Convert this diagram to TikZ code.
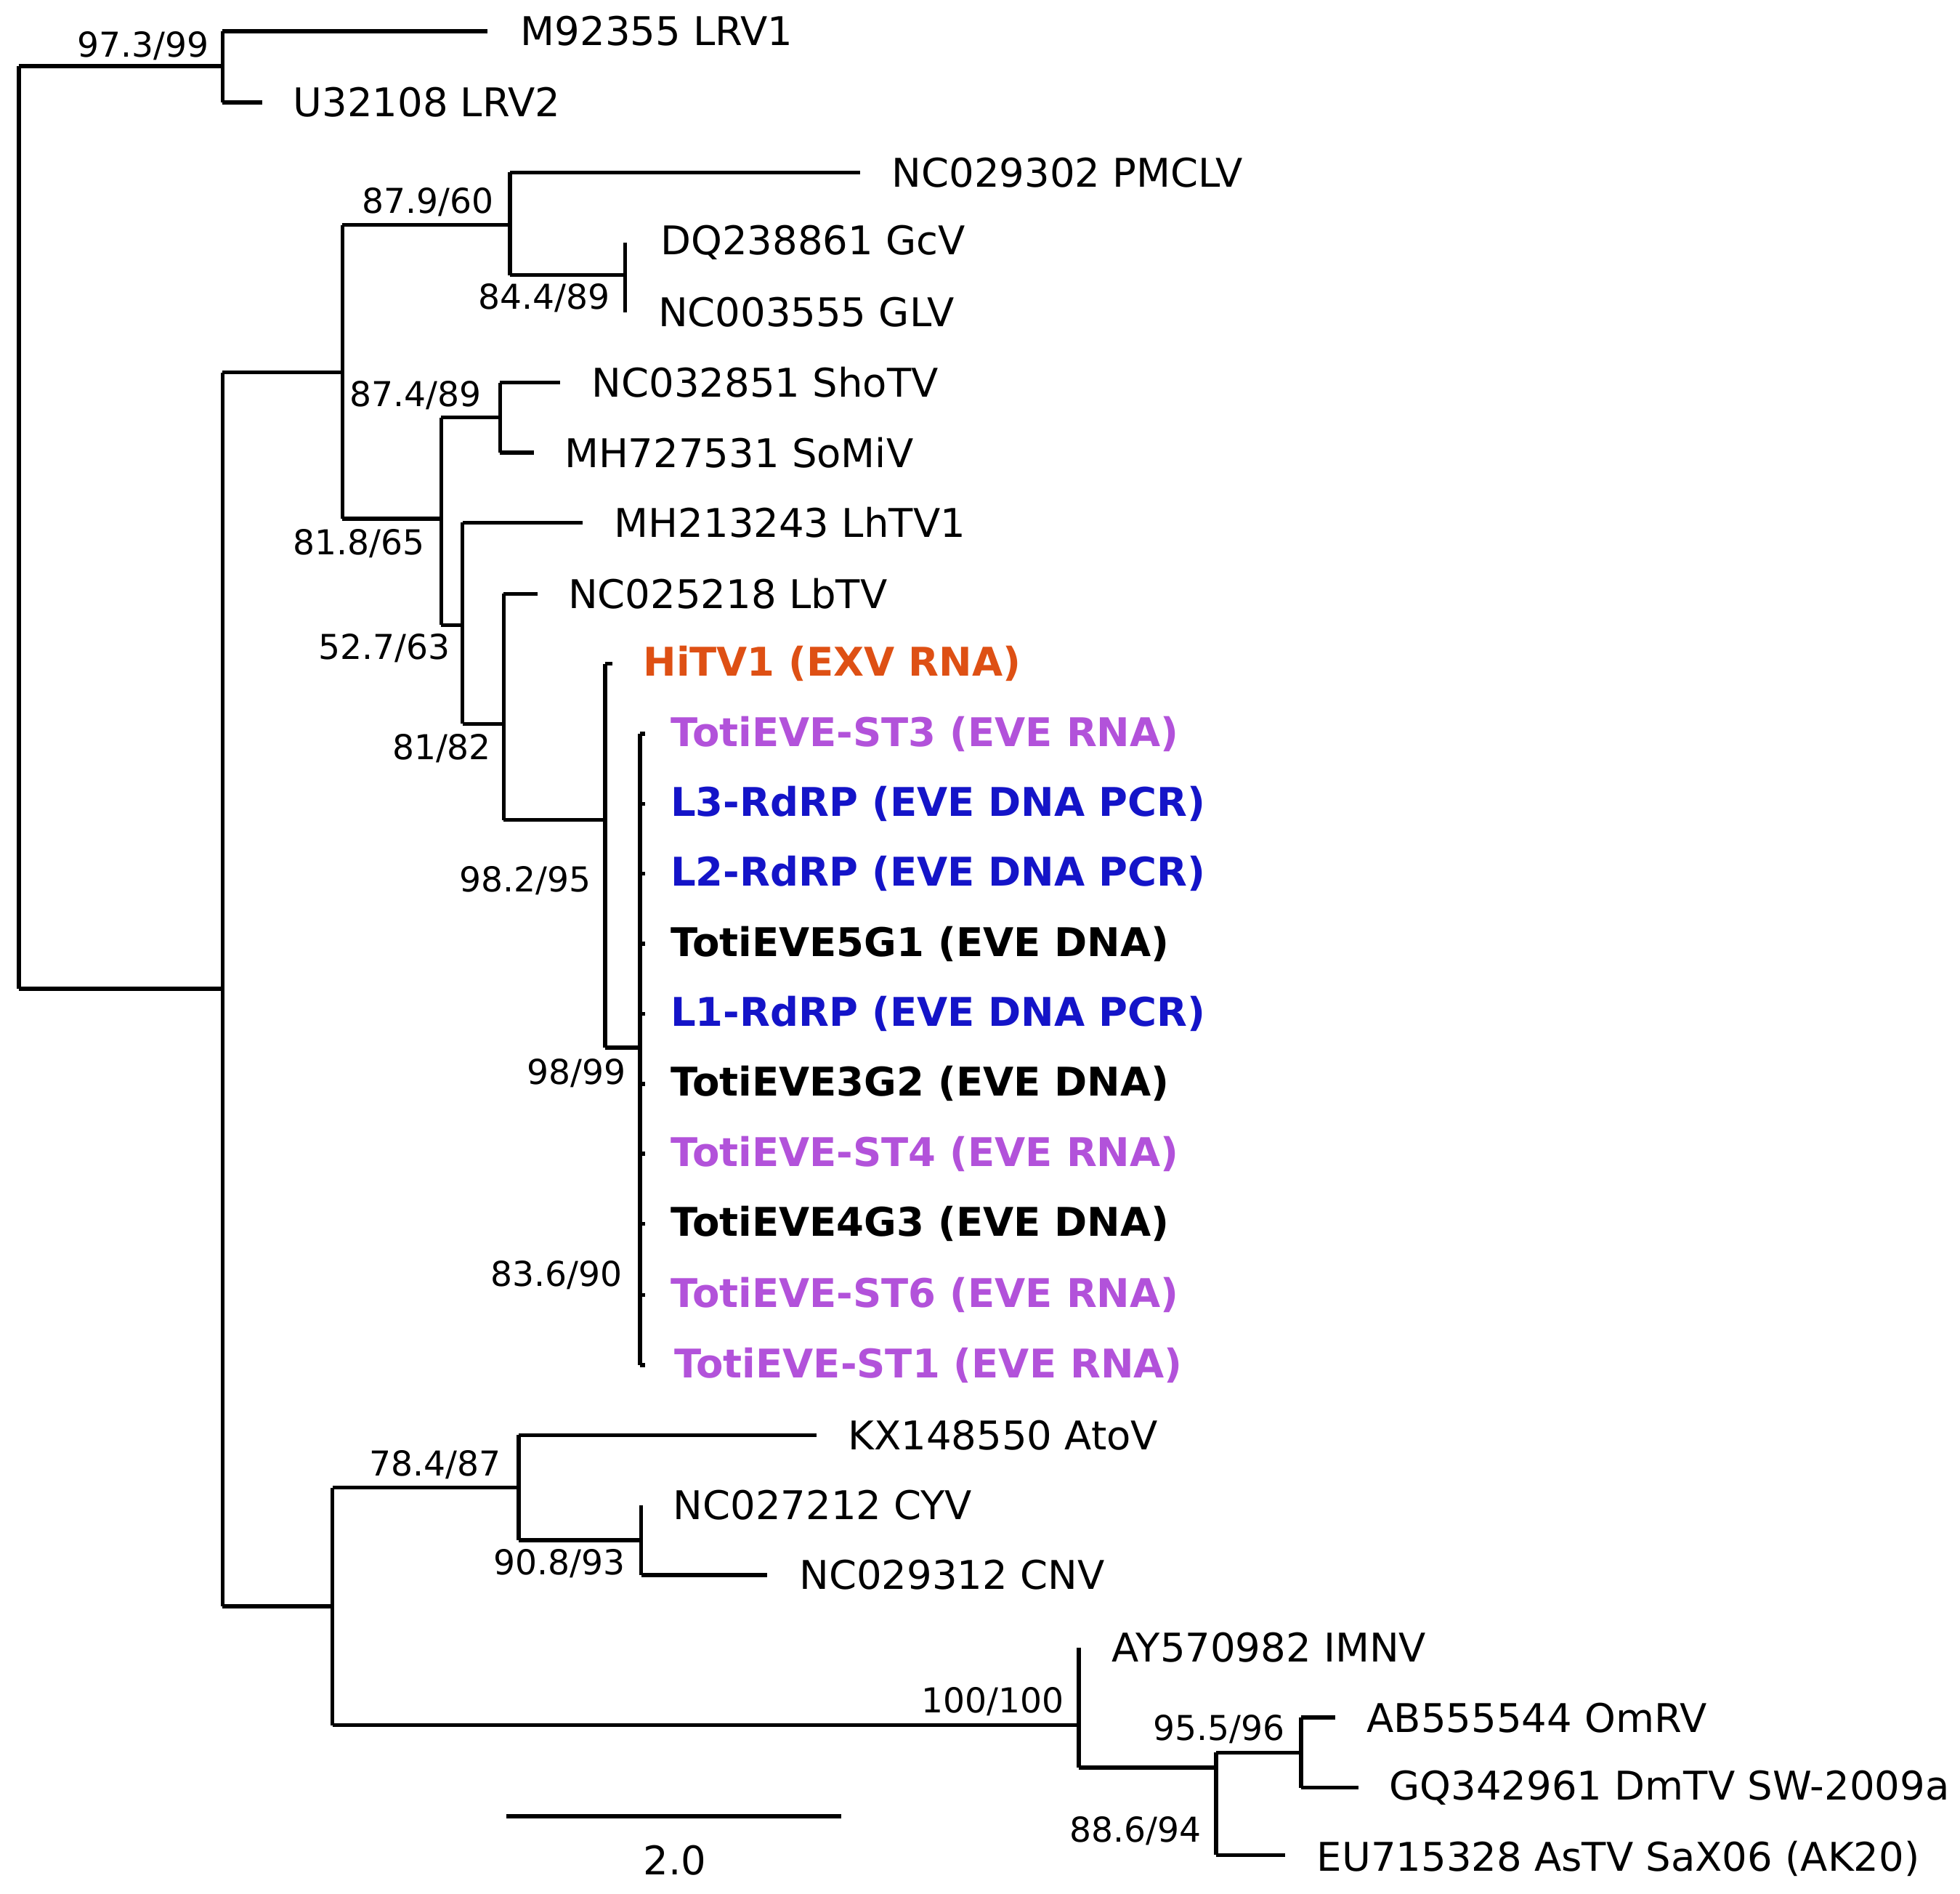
\documentclass[tikz,border=0pt]{standalone}
\usepackage{fontspec}
\setmainfont{DejaVu Sans}
\definecolor{exv}{RGB}{222,80,20}
\definecolor{everna}{RGB}{178,82,218}
\definecolor{evepcr}{RGB}{20,20,200}
\begin{document}
\begin{tikzpicture}[x=0.01cm,y=-0.01cm,line width=0.9pt,
  tip/.style={anchor=west,inner sep=0pt,font=\fontsize{9}{10}\selectfont},
  btip/.style={tip,font=\fontsize{9}{10}\selectfont\bfseries},
  bs/.style={inner sep=1pt,font=\fontsize{7.8}{9}\selectfont}]
\useasboundingbox (0,0) rectangle (1568,1515);
% top clade
\draw (15,53) -- (15,791);
\draw (15,53) -- (178,53) (178,25) -- (178,82) (178,25) -- (390,25) (178,82) -- (210,82);
\node[tip] (t1) at (415,25) {M92355 LRV1};
\node[tip] (t2) at (233,82) {U32108 LRV2};
\node[bs,anchor=south east] at (172,53) {97.3/99};
% big clade
\draw (15,791) -- (178,791) (178,298) -- (178,1285);
\draw (178,298) -- (274,298) (274,180) -- (274,415);
\draw (274,180) -- (408,180) (408,138) -- (408,220) (408,138) -- (688,138) (408,220) -- (500,220) (500,194) -- (500,250);
\node[tip] at (712,138) {NC029302 PMCLV};
\node[tip] at (527,194) {DQ238861 GcV};
\node[tip] at (525,250) {NC003555 GLV};
\node[bs,anchor=south east] at (400,178) {87.9/60};
\node[bs,anchor=north east] at (493,222) {84.4/89};
\draw (274,415) -- (353,415) (353,334) -- (353,500);
\draw (353,334) -- (400,334) (400,306) -- (400,362) (400,306) -- (448,306) (400,362) -- (427,362);
\node[tip] at (472,306) {NC032851 ShoTV};
\node[tip] at (450,362) {MH727531 SoMiV};
\node[bs,anchor=east] at (390,316) {87.4/89};
\node[bs,anchor=north east] at (345,418) {81.8/65};
\draw (353,500) -- (370,500) (370,418) -- (370,579) (370,418) -- (466,418);
\node[tip] at (490,418) {MH213243 LhTV1};
\node[bs,anchor=north east] at (365,502) {52.7/63};
\draw (370,579) -- (403,579) (403,475) -- (403,656) (403,475) -- (430,475);
\node[tip] at (453,475) {NC025218 LbTV};
\node[bs,anchor=north east] at (398,582) {81/82};
\draw (403,656) -- (484,656) (484,531) -- (484,838) (484,531) -- (490,531);
\node[btip,text=exv] at (513,531) {HiTV1 (EXV RNA)};
\node[bs,anchor=north east] at (478,688) {98.2/95};
\draw (484,838) -- (512,838) (512,587) -- (512,1092);
\foreach \y in {587,643,699,755,811,867,923,979,1036,1092}{\draw (512,\y) -- (516,\y);}
\node[btip,text=everna] at (535,587) {TotiEVE-ST3 (EVE RNA)};
\node[btip,text=evepcr] at (535,643) {L3-RdRP (EVE DNA PCR)};
\node[btip,text=evepcr] at (535,699) {L2-RdRP (EVE DNA PCR)};
\node[btip] at (535,755) {TotiEVE5G1 (EVE DNA)};
\node[btip,text=evepcr] at (535,811) {L1-RdRP (EVE DNA PCR)};
\node[btip] at (535,867) {TotiEVE3G2 (EVE DNA)};
\node[btip,text=everna] at (535,923) {TotiEVE-ST4 (EVE RNA)};
\node[btip] at (535,979) {TotiEVE4G3 (EVE DNA)};
\node[btip,text=everna] at (535,1036) {TotiEVE-ST6 (EVE RNA)};
\node[btip,text=everna] at (538,1092) {TotiEVE-ST1 (EVE RNA)};
\node[bs,anchor=north east] at (506,842) {98/99};
\node[bs,anchor=east] at (503,1020) {83.6/90};
% lower clade
\draw (178,1285) -- (266,1285) (266,1190) -- (266,1380);
\draw (266,1190) -- (415,1190) (415,1148) -- (415,1232) (415,1148) -- (653,1148) (415,1232) -- (513,1232) (513,1204) -- (513,1260) (513,1260) -- (614,1260);
\node[tip] at (677,1148) {KX148550 AtoV};
\node[tip] at (537,1204) {NC027212 CYV};
\node[tip] at (638,1260) {NC029312 CNV};
\node[bs,anchor=south east] at (406,1188) {78.4/87};
\node[bs,anchor=north east] at (505,1234) {90.8/93};
\draw (266,1380) -- (863,1380) (863,1318) -- (863,1414) (863,1414) -- (973,1414) (973,1402) -- (973,1484) (973,1402) -- (1041,1402) (1041,1374) -- (1041,1430) (1041,1374) -- (1068,1374) (1041,1430) -- (1087,1430) (973,1484) -- (1028,1484);
\node[tip] at (888,1318) {AY570982 IMNV};
\node[tip] at (1092,1374) {AB555544 OmRV};
\node[tip] at (1110,1430) {GQ342961 DmTV SW-2009a};
\node[tip] at (1052,1487) {EU715328 AsTV SaX06 (AK20)};
\node[bs,anchor=south east] at (856,1378) {100/100};
\node[bs,anchor=south east] at (1033,1400) {95.5/96};
\node[bs,anchor=north east] at (966,1448) {88.6/94};
% scale bar
\draw (405,1453) -- (673,1453);
\node[tip,anchor=center] at (540,1488) {2.0};
\end{tikzpicture}
\end{document}
